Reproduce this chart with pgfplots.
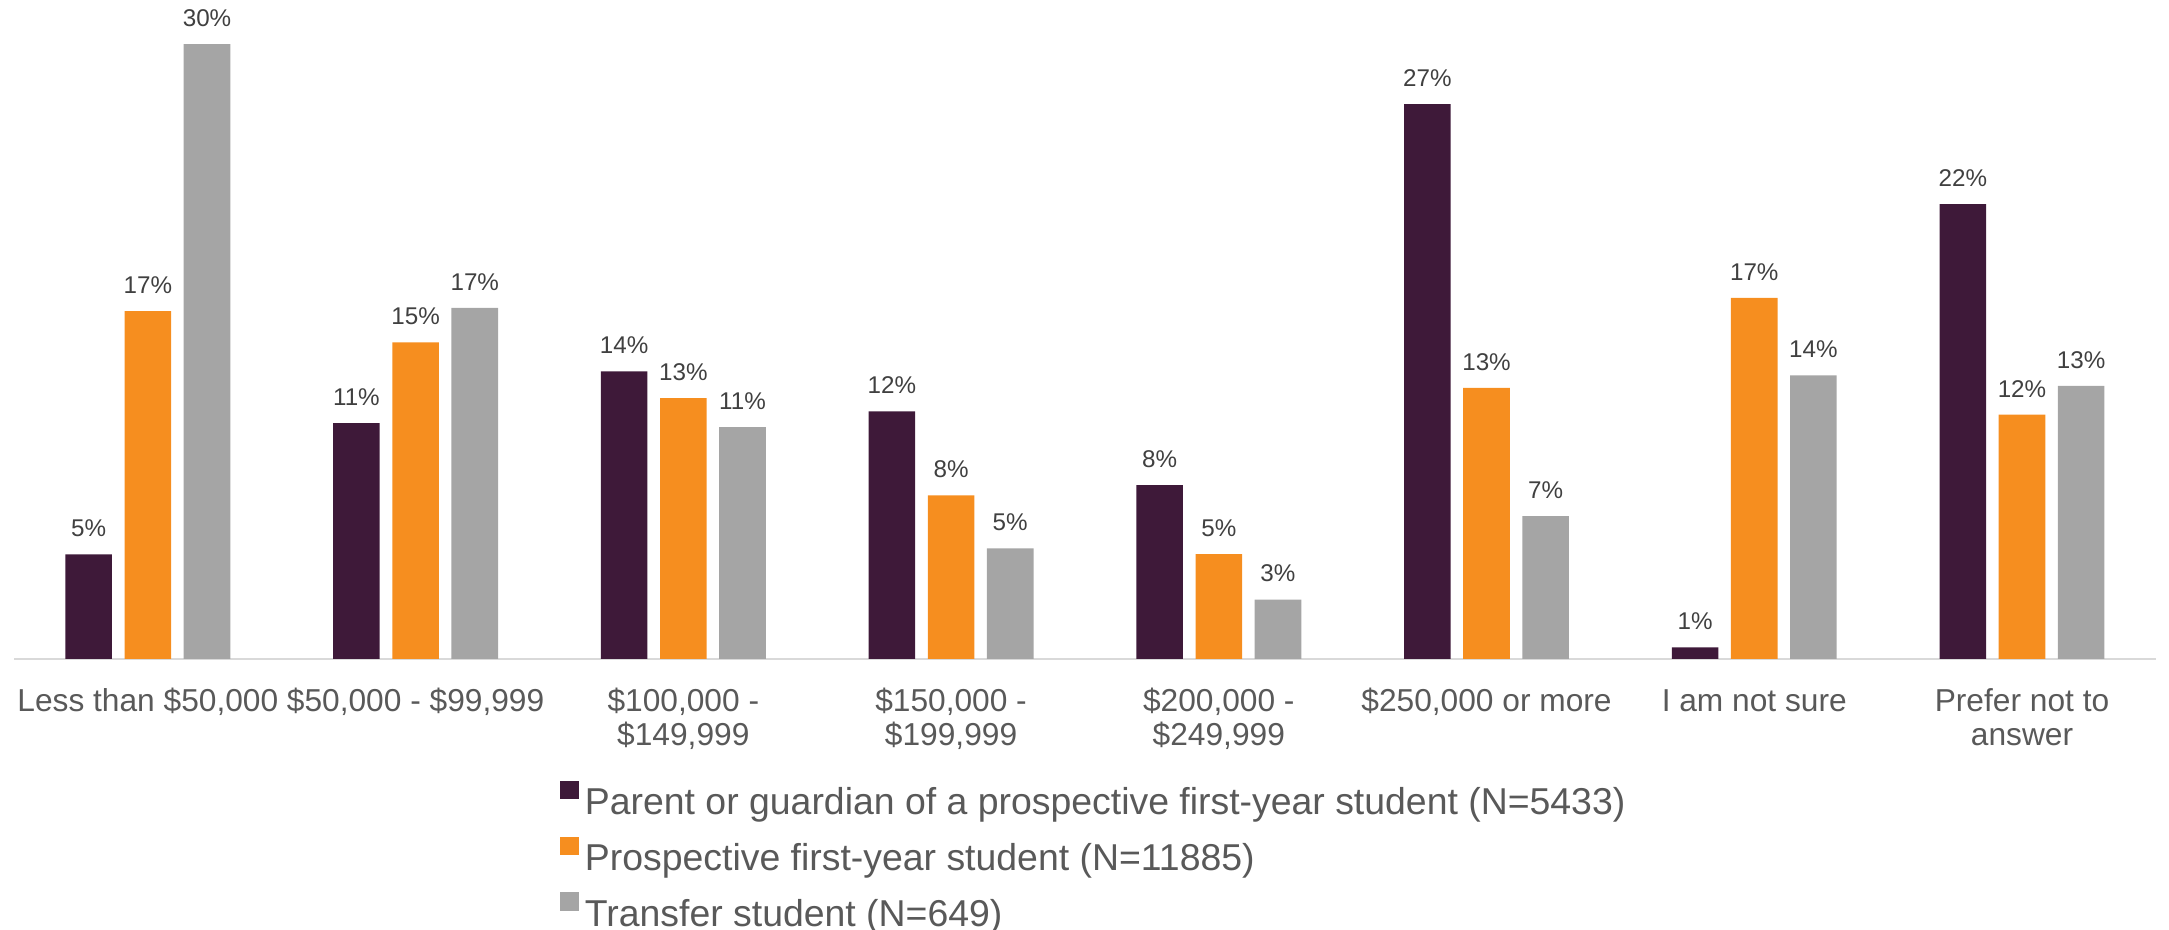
\documentclass[border=0pt]{standalone}
\usepackage{fontspec}
\setmainfont{Liberation Sans}
\usepackage{pgfplots}
\pgfplotsset{compat=1.18}
\definecolor{cPar}{HTML}{3E1939}
\definecolor{cPro}{HTML}{F68E1F}
\definecolor{cTra}{HTML}{A5A5A5}
\definecolor{txt}{HTML}{595959}
\definecolor{lbl}{HTML}{404040}
\definecolor{axl}{HTML}{D9D9D9}
\begin{document}
\begin{tikzpicture}
\useasboundingbox (-7pt,-135.5pt) rectangle (1077.5pt,329.5pt);
\begin{axis}[
  at={(0pt,0pt)}, anchor=south west,
  scale only axis, width=1071pt, height=310.5pt,
  xmin=-0.5, xmax=7.5, ymin=0, ymax=30,
  clip=false,
  axis x line*=bottom, axis y line=none,
  x axis line style={axl, line width=1pt},
  xtick={0,...,7},
  xticklabels={{\strut Less than \$50,000}, {\strut \$50,000 - \$99,999}, {\strut \$100,000 -\\\$149,999}, {\strut \$150,000 -\\\$199,999}, {\strut \$200,000 -\\\$249,999}, {\strut \$250,000 or more}, {\strut I am not sure}, {\strut Prefer not to\\answer}},
  major tick length=0pt,
  xticklabel style={align=center, anchor=north, yshift=-14pt, font=\fontsize{15.85}{17}\selectfont, text=txt, inner sep=0pt},
  ytick=\empty,
  ybar, bar width=0.174,
  point meta=y,
  nodes near coords={\pgfmathprintnumber[fixed,precision=0,assume math mode=true]{\pgfplotspointmeta}\%},
  every node near coord/.append style={anchor=base, yshift=8.85pt, font=\fontsize{12.1}{14}\selectfont, text=lbl, inner sep=0pt},
  legend style={at={(0.2549,-0.1965)}, anchor=north west, draw=none, fill=none, inner sep=0pt, outer sep=0pt,
    font=\fontsize{18.7}{20}\selectfont, text=txt, row sep=11pt,
    nodes={inner sep=0pt, text height=13pt, text depth=0pt},
    /tikz/every odd column/.append style={column sep=3pt}},
  legend cell align=left,
  legend image code/.code={\fill[#1] (0pt,1.15pt) rectangle (9.5pt,10.35pt);},
]
\addplot[fill=cPar, draw=none, bar shift=-0.221] coordinates {(0,5.05) (1,11.4) (2,13.9) (3,11.96) (4,8.4) (5,26.8) (6,0.56) (7,21.97)};
\addplot[fill=cPro, draw=none, bar shift=0] coordinates {(0,16.8) (1,15.3) (2,12.6) (3,7.9) (4,5.07) (5,13.1) (6,17.45) (7,11.8)};
\addplot[fill=cTra, draw=none, bar shift=0.221] coordinates {(0,29.7) (1,16.96) (2,11.2) (3,5.35) (4,2.87) (5,6.9) (6,13.7) (7,13.2)};
\legend{Parent or guardian of a prospective first-year student (N=5433), Prospective first-year student (N=11885), Transfer student (N=649)}
\end{axis}
\end{tikzpicture}
\end{document}
